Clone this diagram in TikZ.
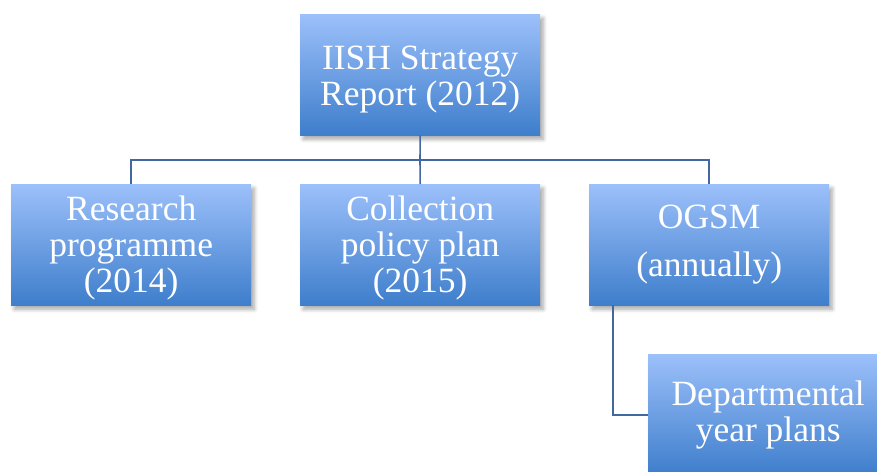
\documentclass[tikz,border=0pt]{standalone}
\usepackage{fontspec}
\setmainfont{Liberation Serif}
\usetikzlibrary{shadows.blur}
\definecolor{boxtop}{RGB}{156,192,250}
\definecolor{boxbot}{RGB}{62,126,204}
\definecolor{linkcol}{RGB}{66,104,160}
\begin{document}
\begin{tikzpicture}[x=1pt,y=-1pt,
  orgbox/.style={anchor=north west, rectangle, minimum width=240pt, minimum height=121pt,
    inner sep=0pt, top color=boxtop, bottom color=boxbot, text=white, align=center,
    font=\fontsize{35.5}{36}\selectfont,
    blur shadow={shadow xshift=3pt, shadow yshift=-4pt, shadow opacity=35, shadow blur steps=6, shadow blur radius=4pt}},
  link/.style={draw=linkcol, line width=1.6pt}]
\useasboundingbox (0,0) rectangle (877,471);
\begin{scope}
\clip (0,0) rectangle (877,471);
\node[orgbox] (top) at (300,14) {\rule{0pt}{34pt}IISH Strategy\\Report (2012)};
\node[orgbox] (r1) at (11,184) {\rule{0pt}{32pt}Research\\programme\\(2014)};
\node[orgbox] (r2) at (300,184) {\rule{0pt}{32pt}Collection\\policy plan\\(2015)};
\node[orgbox] (r3) at (589,184) {OGSM\\[12pt](annually)};
\node[orgbox] (d) at (648,354) {Departmental\\year plans};
\coordinate (bus) at (420,160);
\draw[link] (top.south) -- (bus);
\draw[link] (r1.north) |- (bus) -| (r3.north);
\draw[link] (r2.north) -- (bus);
\draw[link] ([xshift=24pt]r3.south west) |- (d.west);
\end{scope}
\end{tikzpicture}
\end{document}
